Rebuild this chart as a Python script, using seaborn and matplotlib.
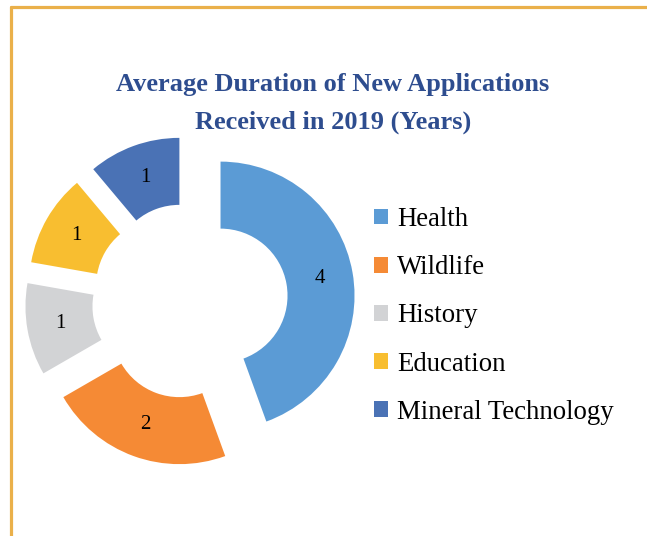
import matplotlib
matplotlib.use("Agg")
import matplotlib.pyplot as plt
import seaborn as sns
from matplotlib.lines import Line2D

# chart data
categories = ["Health", "Wildlife", "History", "Education", "Mineral Technology"]
durations = [4, 2, 1, 1, 1]
title_lines = ["Average Duration of New Applications", "Received in 2019 (Years)"]

palette = sns.color_palette(["#5B9BD5", "#F58A35", "#D2D3D5", "#F8BE30", "#4A72B5"])
title_color = "#2E4D8F"
border_color = "#EAB04A"

sns.set_theme(style="white")
plt.rcParams["font.family"] = ["Liberation Serif", "DejaVu Serif"]

W, H = 647, 536
fig = plt.figure(figsize=(W / 100, H / 100), dpi=100)
ax = fig.add_axes([0, 0, 1, 1])

total = sum(durations)
wedges, texts, autotexts = ax.pie(
    durations,
    colors=palette,
    startangle=90,
    counterclock=False,
    radius=134,
    center=(190, H - 301),
    explode=[31] * len(durations),
    wedgeprops=dict(width=67, linewidth=0),
    autopct=lambda p: f"{p * total / 100:.0f}",
    pctdistance=0.75,
    textprops=dict(fontsize=15, color="black"),
)
ax.set_xlim(0, W)
ax.set_ylim(0, H)
ax.set_aspect("equal")
ax.axis("off")

# title, two centred lines
for i, line in enumerate(title_lines):
    fig.text(333 / W, 1 - (84 + 38 * i) / H, line, ha="center", va="center",
             fontsize=19, fontweight="bold", color=title_color)

ax.legend(
    wedges, categories,
    loc="upper left",
    bbox_to_anchor=(374 / W, 1 - 207 / H),
    bbox_transform=fig.transFigure,
    frameon=False,
    borderpad=0,
    borderaxespad=0,
    fontsize=19.3,
    labelcolor="black",
    handlelength=0.53,
    handleheight=0.53,
    handletextpad=0.32,
    labelspacing=0.865,
)

# gold frame on the left and top
fig.add_artist(Line2D([11 / W, 11 / W], [0, 1 - 7 / H], color=border_color, lw=2.3,
                      transform=fig.transFigure))
fig.add_artist(Line2D([11 / W, 1], [1 - 7 / H, 1 - 7 / H], color=border_color, lw=2.3,
                      transform=fig.transFigure))

fig.savefig("out.png", dpi=100)
plt.close(fig)
